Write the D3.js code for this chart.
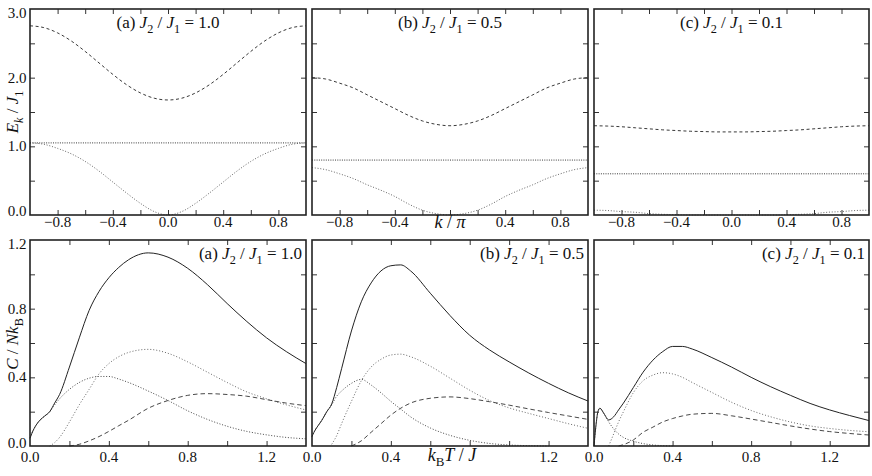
<!DOCTYPE html>
<html>
<head>
<meta charset="utf-8">
<script src="https://cdn.jsdelivr.net/npm/d3@7"></script>
<style>
  body { margin: 0; background: #fff; }
  svg { display: block; }
</style>
</head>
<body>
<div id="chart"></div>
<script>
// ---- top row: band energies E_k / J1 against k / pi
const kVals   = [-1.0,-0.9,-0.8,-0.7,-0.6,-0.5,-0.4,-0.3,-0.2,-0.1,0.0,0.1,0.2,0.3,0.4,0.5,0.6,0.7,0.8,0.9,1.0];
const upperA  = [2.755,2.729,2.652,2.533,2.382,2.215,2.048,1.897,1.778,1.701,1.675,1.701,1.778,1.897,2.048,2.215,2.382,2.533,2.652,2.729,2.755];
const flatA   = [1.05,1.05,1.05,1.05,1.05,1.05,1.05,1.05,1.05,1.05,1.05,1.05,1.05,1.05,1.05,1.05,1.05,1.05,1.05,1.05,1.05];
const lowerA  = [1.05,1.03,0.97,0.89,0.78,0.64,0.48,0.32,0.17,0.05,0.0,0.05,0.17,0.32,0.48,0.64,0.78,0.89,0.97,1.03,1.05];
const upperB  = [2.00,1.98,1.92,1.85,1.75,1.65,1.55,1.45,1.37,1.32,1.30,1.32,1.37,1.45,1.55,1.65,1.75,1.85,1.92,1.98,2.00];
const flatB   = [0.80,0.80,0.80,0.80,0.80,0.80,0.80,0.80,0.80,0.80,0.80,0.80,0.80,0.80,0.80,0.80,0.80,0.80,0.80,0.80,0.80];
const lowerB  = [0.69,0.66,0.60,0.53,0.44,0.36,0.27,0.16,0.07,0.02,0.0,0.02,0.07,0.16,0.27,0.36,0.44,0.53,0.60,0.66,0.69];
const upperC  = [1.30,1.295,1.285,1.27,1.255,1.24,1.23,1.22,1.215,1.21,1.21,1.21,1.215,1.22,1.23,1.24,1.255,1.27,1.285,1.295,1.30];
const flatC   = [0.60,0.60,0.60,0.60,0.60,0.60,0.60,0.60,0.60,0.60,0.60,0.60,0.60,0.60,0.60,0.60,0.60,0.60,0.60,0.60,0.60];
const lowerC  = [0.07,0.065,0.05,0.04,0.02,0.01,0.005,0,0,0,0,0,0,0,0.005,0.01,0.02,0.04,0.05,0.065,0.07];

// ---- bottom row: specific heat C / NkB against kBT / J
const tVals  = [0,0.01,0.02,0.03,0.05,0.075,0.1,0.125,0.15,0.2,0.25,0.3,0.35,0.4,0.45,0.5,0.6,0.7,0.8,0.9,1.0,1.1,1.2,1.3,1.4];
const totalA = [0.045,0.075,0.10,0.12,0.15,0.175,0.20,0.25,0.30,0.46,0.63,0.79,0.90,0.98,1.04,1.085,1.125,1.10,1.035,0.94,0.83,0.725,0.63,0.55,0.48];
const band1A = [0.045,0.075,0.10,0.12,0.15,0.175,0.20,0.24,0.275,0.33,0.37,0.395,0.405,0.405,0.39,0.37,0.32,0.265,0.205,0.155,0.115,0.085,0.065,0.05,0.042];
const band2A = [null,null,null,null,null,null,0.0,0.02,0.05,0.14,0.24,0.33,0.42,0.48,0.52,0.545,0.563,0.54,0.49,0.43,0.37,0.315,0.275,0.24,0.21];
const band3A = [null,null,null,null,null,null,null,null,null,0.0,0.01,0.03,0.055,0.085,0.118,0.15,0.22,0.265,0.295,0.305,0.30,0.29,0.27,0.25,0.235];
const totalB = [0.055,0.08,0.10,0.117,0.15,0.20,0.245,0.34,0.45,0.67,0.84,0.95,1.02,1.05,1.055,1.02,0.89,0.76,0.645,0.56,0.49,0.425,0.365,0.31,0.262];
const band1B = [0.055,0.08,0.10,0.117,0.15,0.20,0.24,0.29,0.32,0.365,0.388,0.355,0.31,0.26,0.215,0.17,0.105,0.062,0.033,0.015,0.006,0.002,0.0,null,null];
const band2B = [null,null,null,null,null,null,0.01,0.06,0.13,0.26,0.38,0.46,0.505,0.53,0.535,0.52,0.465,0.395,0.325,0.265,0.222,0.19,0.16,0.13,0.103];
const band3B = [null,null,null,null,null,null,null,null,null,0.0,0.03,0.08,0.13,0.18,0.22,0.25,0.278,0.286,0.276,0.258,0.238,0.216,0.195,0.175,0.155];
const totalC = [0,0.12,0.20,0.22,0.19,0.152,0.17,0.21,0.25,0.34,0.43,0.50,0.55,0.58,0.58,0.565,0.515,0.46,0.40,0.345,0.295,0.248,0.21,0.178,0.148];
const band1C = [0,0.12,0.20,0.22,0.19,0.14,0.10,0.07,0.05,0.028,0.014,0.006,0.002,0.0,null,null,null,null,null,null,null,null,null,null,null];
const band2C = [null,null,null,null,null,0.0,0.07,0.14,0.20,0.31,0.38,0.413,0.427,0.42,0.40,0.37,0.312,0.255,0.207,0.17,0.14,0.117,0.102,0.091,0.083];
const band3C = [null,null,null,null,null,null,null,0.0,0.008,0.035,0.08,0.11,0.14,0.16,0.175,0.185,0.19,0.176,0.157,0.137,0.117,0.099,0.084,0.073,0.064];

// ---- ticks and labels
const kTicks  = [-0.8,-0.6,-0.4,-0.2,0,0.2,0.4,0.6,0.8];
const kLabels = [-0.8,-0.4,0,0.4,0.8];
const eTicks  = [0.5,1.0,1.5,2.0,2.5];
const eLabels = [0,1,2,3];
const tTicks  = [0.2,0.4,0.6,0.8,1.0,1.2];
const tLabels = [0,0.4,0.8,1.2];
const cTicks  = [0.2,0.4,0.6,0.8,1.0];
const cLabels = [0,0.4,0.8,1.2];
const tags    = ["(a)","(b)","(c)"];
const ratios  = ["1.0","0.5","0.1"];

const bandsTop = [[upperA,flatA,lowerA],[upperB,flatB,lowerB],[upperC,flatC,lowerC]];
const heatBot  = [[totalA,band1A,band2A,band3A],[totalB,band1B,band2B,band3B],[totalC,band1C,band2C,band3C]];

const W = 872, H = 476;
const cols = [[30,306],[312,588],[594,869]];
const topRow = [9,215], botRow = [240,446];
const SERIF = "'Liberation Serif', 'Times New Roman', Tinos, Times, 'DejaVu Serif', serif";

const svg = d3.select("#chart").append("svg")
    .attr("width", W).attr("height", H)
    .attr("font-family", SERIF)
    .style("font-family", SERIF);

function panel(xr, yr, xDom, yDom, xT, yT) {
  const x = d3.scaleLinear().domain(xDom).range(xr);
  const y = d3.scaleLinear().domain(yDom).range([yr[1], yr[0]]);
  const g = svg.append("g");
  const ax = (axis, tr) => g.append("g").attr("transform", tr)
      .call(axis.tickSize(-5).tickFormat(""))
      .call(s => s.select(".domain").remove())
      .selectAll("line").attr("stroke", "#333").attr("stroke-width", 1);
  ax(d3.axisBottom(x).tickValues(xT), `translate(0,${yr[1]})`);
  ax(d3.axisTop(x).tickValues(xT), `translate(0,${yr[0]})`);
  ax(d3.axisLeft(y).tickValues(yT), `translate(${xr[0]},0)`);
  ax(d3.axisRight(y).tickValues(yT), `translate(${xr[1]},0)`);
  return {g, x, y};
}

function curve(p, xs, ys, dash, color, width) {
  const pts = xs.map((v, i) => [v, ys[i]]);
  const line = d3.line()
      .defined(d => d[1] != null)
      .x(d => p.x(d[0])).y(d => p.y(d[1]))
      .curve(d3.curveMonotoneX);
  p.g.append("path").datum(pts)
      .attr("d", line)
      .attr("fill", "none")
      .attr("stroke", color)
      .attr("stroke-width", width)
      .attr("stroke-dasharray", dash);
}

// text built from pieces: {t, i: italic, sub: subscript}
function rich(sel, parts, size) {
  sel.attr("font-family", SERIF).attr("fill", "#111");
  let down = false;
  parts.forEach(p => {
    const ts = sel.append("tspan").text(p.t);
    if (p.i) ts.attr("font-style", "italic");
    if (p.sub) {
      ts.attr("font-size", size * 0.72).attr("dy", size * 0.27);
      down = true;
    } else if (down) {
      ts.attr("dy", -size * 0.27);
      down = false;
    }
  });
  return sel;
}

function titleParts(i) {
  return [{t: tags[i] + " "}, {t: "J", i: true}, {t: "2", sub: true}, {t: " / "},
          {t: "J", i: true}, {t: "1", sub: true}, {t: " = " + ratios[i]}];
}

const fmt = d3.format(".1f");

cols.forEach((xr, i) => {
  // ---------- top: dispersion
  const p = panel(xr, topRow, [-1, 1], [0, 3], kTicks, eTicks);
  curve(p, kVals, bandsTop[i][0], "3,2.6", "#222", 0.9);
  curve(p, kVals, bandsTop[i][1], "1,1.3", "#222", 0.9);
  curve(p, kVals, bandsTop[i][2], "1,1.8", "#555", 0.9);
  p.g.append("rect").attr("x", xr[0]).attr("y", topRow[0])
      .attr("width", xr[1] - xr[0]).attr("height", topRow[1] - topRow[0])
      .attr("fill", "none").attr("stroke", "#222").attr("stroke-width", 1.6);

  p.g.selectAll(".xl").data(kLabels.filter(v => !(i === 1 && v === 0))).join("text")
      .attr("x", d => p.x(d)).attr("y", 227)
      .attr("text-anchor", "middle").attr("font-size", 15)
      .attr("font-family", SERIF).attr("fill", "#111")
      .text(d => fmt(d));
  if (i === 0) {
    p.g.selectAll(".yl").data(eLabels).join("text")
        .attr("x", 26.5)
        .attr("y", d => Math.max(topRow[0] + 3.5, Math.min(topRow[1] - 4.5, p.y(d))) + 5)
        .attr("text-anchor", "end").attr("font-size", 15)
        .attr("font-family", SERIF).attr("fill", "#111")
        .text(d => fmt(d));
  }
  rich(p.g.append("text").attr("x", (xr[0] + xr[1]) / 2).attr("y", 28)
      .attr("text-anchor", "middle").attr("font-size", 17), titleParts(i), 17);

  // ---------- bottom: specific heat
  const q = panel(xr, botRow, [0, 1.4], [0, 1.2], tTicks, cTicks);
  curve(q, tVals, heatBot[i][0], null, "#222", 1);
  curve(q, tVals, heatBot[i][1], "1,1.8", "#333", 0.9);
  curve(q, tVals, heatBot[i][2], "1,2", "#555", 0.9);
  curve(q, tVals, heatBot[i][3], "4.5,3", "#333", 0.9);
  q.g.append("rect").attr("x", xr[0]).attr("y", botRow[0])
      .attr("width", xr[1] - xr[0]).attr("height", botRow[1] - botRow[0])
      .attr("fill", "none").attr("stroke", "#222").attr("stroke-width", 1.6);

  q.g.selectAll(".xl").data(tLabels.filter(v => !(i === 1 && v === 0.8))).join("text")
      .attr("x", d => q.x(d)).attr("y", 462)
      .attr("text-anchor", "middle").attr("font-size", 15)
      .attr("font-family", SERIF).attr("fill", "#111")
      .text(d => fmt(d));
  if (i === 0) {
    q.g.selectAll(".yl").data(cLabels).join("text")
        .attr("x", 26.5)
        .attr("y", d => Math.max(botRow[0] + 3.5, Math.min(botRow[1] - 3, q.y(d))) + 5)
        .attr("text-anchor", "end").attr("font-size", 15)
        .attr("font-family", SERIF).attr("fill", "#111")
        .text(d => fmt(d));
  }
  rich(q.g.append("text").attr("x", xr[1] - 4).attr("y", 259)
      .attr("text-anchor", "end").attr("font-size", 17), titleParts(i), 17);
});

// axis titles
rich(svg.append("text").attr("transform", "translate(18,112) rotate(-90)")
    .attr("text-anchor", "middle").attr("font-size", 17),
  [{t: "E", i: true}, {t: "k", i: true, sub: true}, {t: " / "}, {t: "J", i: true}, {t: "1", sub: true}], 17);
rich(svg.append("text").attr("transform", "translate(18,344) rotate(-90)")
    .attr("text-anchor", "middle").attr("font-size", 17),
  [{t: "C", i: true}, {t: " / "}, {t: "Nk", i: true}, {t: "B", sub: true}], 17);
rich(svg.append("text").attr("x", 450).attr("y", 228)
    .attr("text-anchor", "middle").attr("font-size", 18),
  [{t: "k", i: true}, {t: " / "}, {t: "π", i: true}], 18);
rich(svg.append("text").attr("x", 452).attr("y", 461)
    .attr("text-anchor", "middle").attr("font-size", 18),
  [{t: "k", i: true}, {t: "B", sub: true}, {t: "T", i: true}, {t: " / "}, {t: "J", i: true}], 18);
</script>
</body>
</html>
